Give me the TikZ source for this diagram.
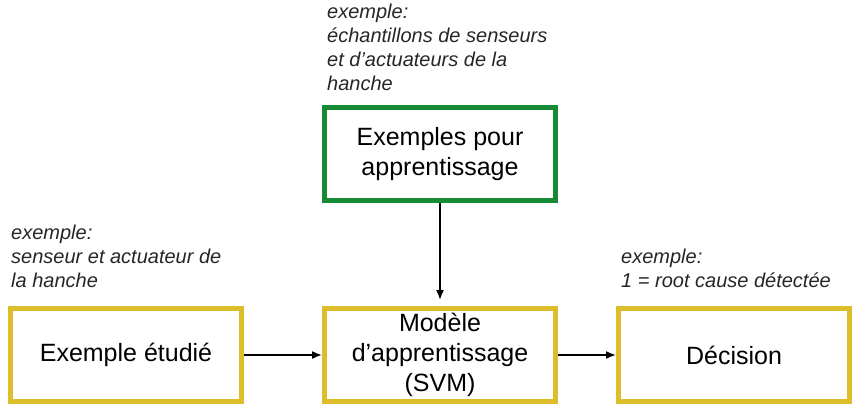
\documentclass[tikz,border=0pt]{standalone}
\usepackage{fontspec}
\setmainfont{Liberation Sans}
\usetikzlibrary{arrows.meta,positioning}
\definecolor{boxgreen}{RGB}{22,138,52}
\definecolor{boxyellow}{RGB}{221,190,42}

\tikzset{
  block/.style={draw, line width=5pt, minimum width=231pt, minimum height=93pt,
    align=center, inner sep=0pt, font=\fontsize{25}{30}\selectfont},
  note/.style={anchor=north west, align=left, inner sep=0pt,
    font=\fontsize{20}{24}\selectfont\itshape, text=black!85},
  flow/.style={line width=1.6pt, -{Latex[length=10pt,width=8pt]}}
}

\begin{document}
\begin{tikzpicture}[x=1pt, y=1pt]

    \useasboundingbox (0,0) rectangle (866,418);

    \node[block, draw=boxgreen] (train) at (440,264) {Exemples pour\\apprentissage};
    \node[block, draw=boxyellow] (input) at (126,63) {Exemple étudié};
    \node[block, draw=boxyellow] (model) at (440,63) {Modèle\\d’apprentissage\\(SVM)};
    \node[block, draw=boxyellow] (decision) at (734,63) {Décision};

    \node[note] (traintext) at (327,414) {exemple:\\échantillons de senseurs\\et d’actuateurs de la\\hanche};
    \node[note] (inputtext) at (11,193) {exemple:\\senseur et actuateur de\\la hanche};
    \node[note] (decisiontext) at (621,169) {exemple:\\1 = root cause détectée};

    \draw [flow] (train.south) -- ([yshift=6pt]model.north);
    \draw [flow] (input.east) -- (model.west);
    \draw [flow] (model.east) -- (decision.west);

\end{tikzpicture}
\end{document}
